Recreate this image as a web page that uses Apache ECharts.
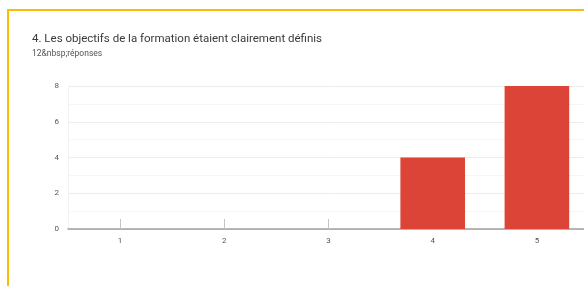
<!DOCTYPE html>
<html>
<head>
<meta charset="utf-8">
<script src="https://cdn.jsdelivr.net/npm/echarts@6/dist/echarts.min.js"></script>
<style>
  html, body { margin: 0; padding: 0; background: #fff; overflow: hidden; }
  #chart { width: 600px; height: 286px; }
</style>
</head>
<body>
<div id="chart"></div>
<script>
var chart = echarts.init(document.getElementById("chart"));

// notes de 1 a 5 et nombre de reponses
var categories = ['1', '2', '3', '4', '5'];
var counts = [0, 0, 0, 4, 8];
var yTicks = [0, 2, 4, 6, 8];

var option = {
    backgroundColor: '#fff',
    title: {
        text: '4. Les objectifs de la formation étaient clairement définis',
        subtext: '12&nbsp;réponses',
        left: 27,
        top: 28,
        itemGap: 4,
        textStyle: { fontSize: 11.5, fontWeight: 'normal', color: '#3a3a3a', fontFamily: 'Roboto' },
        subtextStyle: { fontSize: 8.5, color: '#555', fontFamily: 'Roboto' }
    },
    graphic: [
        {
            type: 'rect',
            shape: { x: 8, y: 10, width: 640, height: 320 },
            style: { fill: 'none', stroke: '#FBBC04', lineWidth: 2 },
            silent: true
        }
    ],
    grid: { left: 68, right: 11, top: 86, bottom: 57 },
    xAxis: {
        type: 'category',
        data: categories,
        axisLine: { lineStyle: { color: '#9e9e9e', width: 1.5 } },
        axisTick: { show: true, inside: true, alignWithLabel: true, length: 10, lineStyle: { color: '#c4c4c4', width: 1 } },
        axisLabel: { fontSize: 8, color: '#555', margin: 8, fontFamily: 'Roboto' }
    },
    yAxis: {
        type: 'value',
        min: yTicks[0],
        max: yTicks[yTicks.length - 1],
        interval: 2,
        axisLine: { show: true, lineStyle: { color: '#f2f2f2' } },
        axisLabel: { fontSize: 8, color: '#555', margin: 9, fontFamily: 'Roboto' },
        splitLine: { lineStyle: { color: '#ececec' } },
        minorTick: { show: false, splitNumber: 2 },
        minorSplitLine: { show: true, lineStyle: { color: '#f6f6f6' } }
    },
    series: [
        {
            type: 'bar',
            data: counts,
            barWidth: '62%',
            itemStyle: { color: '#DB4437' }
        }
    ]
};

chart.setOption(option);
</script>
</body>
</html>
